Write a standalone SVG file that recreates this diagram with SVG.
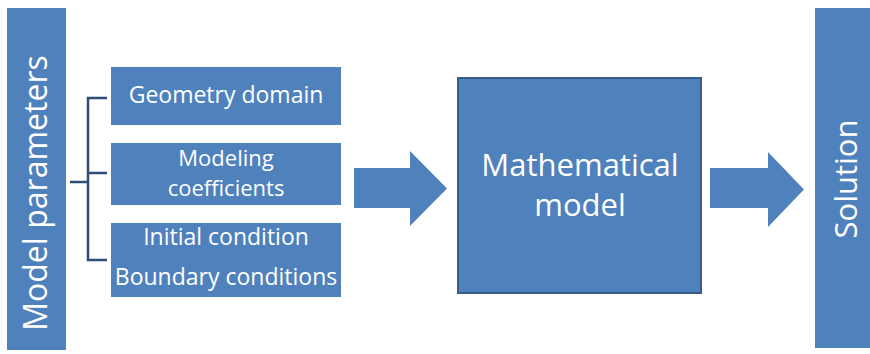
<svg xmlns="http://www.w3.org/2000/svg" width="870" height="354" viewBox="0 0 870 354">
<style>
.box{fill:#4F81BD;}
.t{fill:#FFFFFF;font-family:"Open Sans","DejaVu Sans",sans-serif;text-anchor:middle;}
.br{fill:none;stroke:#2C4D75;stroke-width:2.5;}
</style>
<rect width="870" height="354" fill="#FFFFFF"/>
<g id="model-parameters">
<rect class="box" x="7" y="8" width="59" height="342"/>
<text class="t" font-size="32" transform="translate(47,193) rotate(-90)">Model parameters</text>
</g>
<g id="geometry-domain">
<rect class="box" x="111" y="67" width="230" height="58"/>
<text class="t" font-size="23" x="226" y="103">Geometry domain</text>
</g>
<g id="modeling-coefficients">
<rect class="box" x="111" y="143" width="230" height="62"/>
<text class="t" font-size="22" x="226" y="166">Modeling</text>
<text class="t" font-size="22" x="226" y="196">coefficients</text>
</g>
<g id="conditions">
<rect class="box" x="111" y="223" width="230" height="74"/>
<text class="t" font-size="23" x="226" y="245">Initial condition</text>
<text class="t" font-size="23" x="226" y="285">Boundary conditions</text>
</g>
<g id="mathematical-model">
<rect class="box" x="458" y="78" width="243" height="215" stroke="#385D8A" stroke-width="2"/>
<text class="t" font-size="31" x="580" y="176">Mathematical</text>
<text class="t" font-size="31" x="580" y="216">model</text>
</g>
<g id="solution">
<rect class="box" x="815" y="8" width="55" height="340"/>
<text class="t" font-size="31" transform="translate(857,179) rotate(-90)">Solution</text>
</g>
<g id="connectors">
<path class="br" d="M70,182 H88 M107,98 H88 V260 H107 M88,173 H107"/>
<path class="box" d="M354,168 H410 V151 L447,188.5 L410,226 V208 H354 Z"/>
<path class="box" d="M710,168 H768 V152 L804,189.5 L768,227 V208 H710 Z"/>
</g>
</svg>
